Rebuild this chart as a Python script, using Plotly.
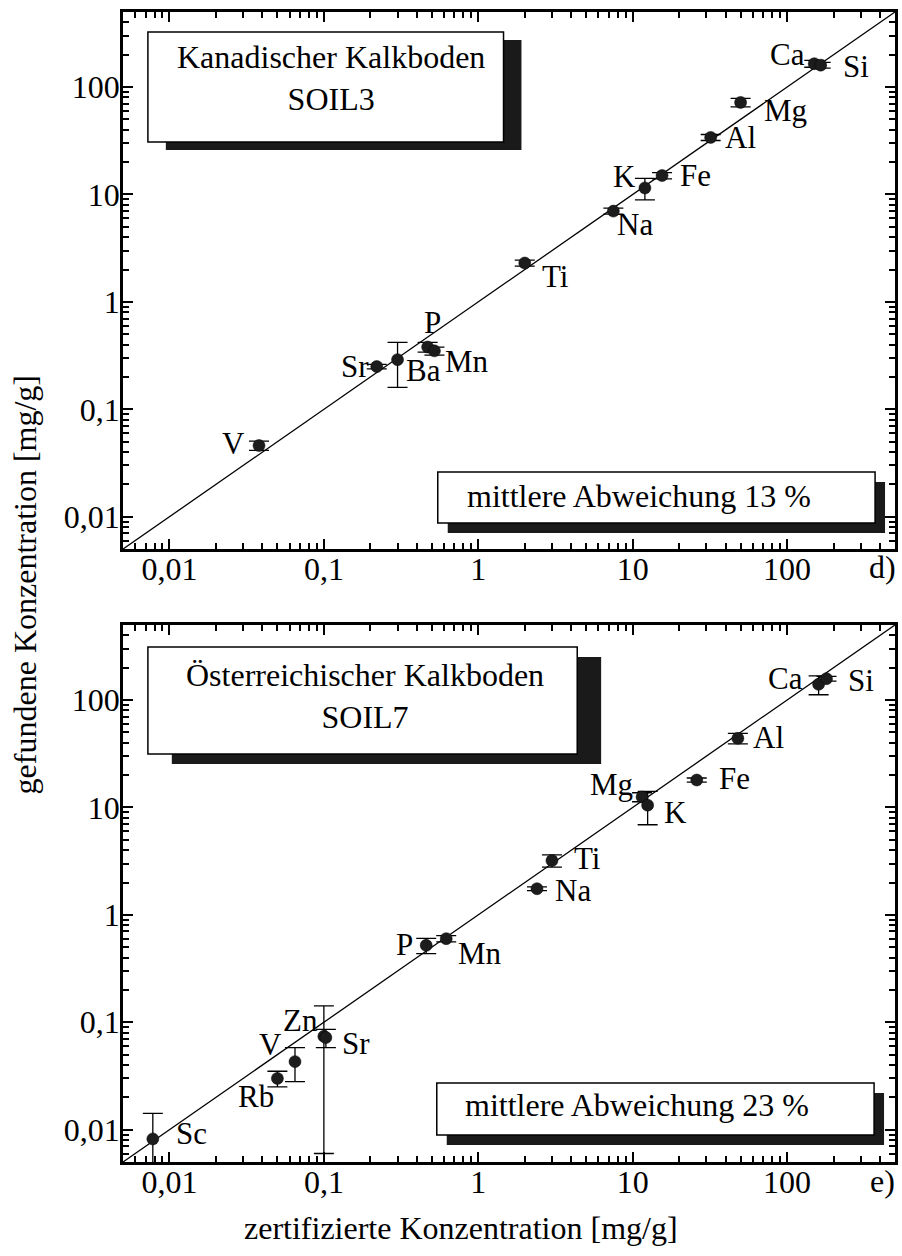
import numpy as np
import plotly.graph_objects as go

# Kanadischer Kalkboden SOIL3: certified vs. found concentration [mg/g]
soil3_elements = ["Ca", "Si", "Mg", "Al", "Fe", "K", "Na", "Ti", "P", "Mn", "Ba", "Sr", "V"]
soil3_certified = [150, 165, 50, 32, 15.5, 12, 7.5, 2.0, 0.47, 0.52, 0.30, 0.22, 0.038]
soil3_found = [165, 160, 72, 34, 15, 11.5, 7.0, 2.3, 0.38, 0.35, 0.29, 0.25, 0.046]
soil3_error = [12, 10, 6.5, 2.2, 1.0, 2.6, 0.45, 0.15, 0.04, 0.03, 0.13, 0.012, 0.0046]

# Österreichischer Kalkboden SOIL7
soil7_elements = ["Ca", "Si", "Al", "Fe", "Mg", "K", "Ti", "Na", "P", "Mn", "Zn", "Sr", "V", "Rb", "Sc"]
soil7_certified = [160, 180, 48, 26, 11.5, 12.5, 3.0, 2.4, 0.46, 0.62, 0.10, 0.103, 0.065, 0.05, 0.0078]
soil7_found = [140, 158, 44, 18, 12.5, 10.5, 3.2, 1.75, 0.52, 0.60, 0.074, 0.072, 0.043, 0.030, 0.0082]
soil7_error = [28, 8, 5, 0.8, 1.2, 3.6, 0.42, 0.07, 0.085, 0.04, 0.068, 0.014, 0.015, 0.005, 0.006]

# axis settings shared by both panels
axis_limits = [0.005, 500]
decade_ticks = [0.01, 0.1, 1, 10, 100]
decade_labels = ["0,01", "0,1", "1", "10", "100"]
deviation_soil3 = "mittlere Abweichung 13 %"
deviation_soil7 = "mittlere Abweichung 23 %"

FONT = "Liberation Serif, Times New Roman, Times, serif"
W, H = 902, 1256
ML, MR, MT, MB = 123, 4, 12, 94
PW, PH = W - ML - MR, H - MT - MB

# label offsets (pixels) of the element names next to their points
offs3 = {"Ca": (-27, 9), "Si": (35, -1), "Mg": (45, -8), "Al": (30, 0), "Fe": (33, 0),
         "K": (-20, 11), "Na": (22, -13), "Ti": (31, -13), "P": (5, 25), "Mn": (33, -11),
         "Ba": (26, -11), "Sr": (-22, 0), "V": (-26, 2)}
offs7 = {"Ca": (-33, 6), "Si": (35, -2), "Al": (31, 1), "Fe": (38, 2), "Mg": (-31, 13),
         "K": (28, -7), "Ti": (36, 2), "Na": (36, -2), "P": (-22, 1), "Mn": (34, -15),
         "Zn": (-23, 16), "Sr": (30, -6), "V": (-24, 17), "Rb": (-21, -18), "Sc": (39, 5)}


def px2paper(px, py):
    return (px - ML) / PW, (H - MB - py) / PH


minor_vals = [m * 10.0 ** e for e in range(-3, 3) for m in range(2, 10)]
minor_vals = [v for v in minor_vals if axis_limits[0] < v < axis_limits[1]]
log_range = [np.log10(axis_limits[0]), np.log10(axis_limits[1])]


def axis_style(**kw):
    d = dict(type="log", range=log_range, tickvals=decade_ticks, ticktext=decade_labels,
             ticks="inside", ticklen=10, tickwidth=2, tickcolor="black",
             showline=True, linecolor="black", linewidth=2.5, mirror="ticks",
             showgrid=False, zeroline=False,
             tickfont=dict(family=FONT, size=32, color="black"),
             minor=dict(tickvals=minor_vals, ticks="inside", ticklen=6, tickwidth=1.5,
                        tickcolor="black", showgrid=False))
    d.update(kw)
    return d


fig = go.Figure()

panels = [
    (soil3_elements, soil3_certified, soil3_found, soil3_error, "x", "y", offs3),
    (soil7_elements, soil7_certified, soil7_found, soil7_error, "x2", "y2", offs7),
]

for els, cert, found, err, xa, ya, offs in panels:
    # 1:1 reference line across the full axis range
    fig.add_trace(go.Scatter(x=axis_limits, y=axis_limits, mode="lines",
                             line=dict(color="black", width=1.3),
                             xaxis=xa, yaxis=ya, showlegend=False, hoverinfo="skip"))
    fig.add_trace(go.Scatter(
        x=cert, y=found, mode="markers", text=els, xaxis=xa, yaxis=ya, showlegend=False,
        marker=dict(color="#1c1c1c", size=12, line=dict(color="#000", width=0.5)),
        error_y=dict(type="data", array=err, symmetric=True, color="black",
                     thickness=1.3, width=10)))
    for e, c, f in zip(els, cert, found):
        dx, dy = offs[e]
        fig.add_annotation(x=np.log10(c), y=np.log10(f), xref=xa, yref=ya, text=e,
                           showarrow=False, xshift=dx, yshift=dy,
                           font=dict(family=FONT, size=31, color="black"))

fig.update_layout(
    width=W, height=H, margin=dict(l=ML, r=MR, t=MT, b=MB),
    paper_bgcolor="white", plot_bgcolor="white",
    xaxis=axis_style(domain=[0, 1], anchor="y", ticklabelstandoff=-10),
    yaxis=axis_style(domain=[0.533, 1], anchor="x", ticklabelstandoff=-6),
    xaxis2=axis_style(domain=[0, 1], anchor="y2", ticklabelstandoff=-10),
    yaxis2=axis_style(domain=[0, 0.467], anchor="x2", ticklabelstandoff=-6),
)

# framed text boxes with drop shadows
boxes = [
    ((148, 32, 505, 142), (18, 8)),
    ((439, 472, 878, 523), (10, 10)),
    ((148, 647, 579, 754), (24, 10)),
    ((438, 1083, 877, 1135), (10, 10)),
]
for (x0, y0, x1, y1), (sx, sy) in boxes:
    a0, b0 = px2paper(x0 + sx, y1 + sy)
    a1, b1 = px2paper(x1 + sx, y0 + sy)
    fig.add_shape(type="rect", xref="paper", yref="paper", x0=a0, y0=b0, x1=a1, y1=b1,
                  fillcolor="#1a1a1a", line=dict(width=0), layer="above")
    a0, b0 = px2paper(x0, y1)
    a1, b1 = px2paper(x1, y0)
    fig.add_shape(type="rect", xref="paper", yref="paper", x0=a0, y0=b0, x1=a1, y1=b1,
                  fillcolor="white", line=dict(color="black", width=1.5), layer="above")


def text_at(px, py, s, size=32, angle=0, xanchor="center"):
    a, b = px2paper(px, py)
    fig.add_annotation(x=a, y=b, xref="paper", yref="paper", text=s, showarrow=False,
                       textangle=angle, xanchor=xanchor, yanchor="middle",
                       font=dict(family=FONT, size=size, color="black"))


# two-line box titles
for px, py, s in [(332, 78, "Kanadischer Kalkboden<br>SOIL3"),
                  (366, 696, "Österreichischer Kalkboden<br>SOIL7")]:
    a, b = px2paper(px, py)
    fig.add_annotation(x=a, y=b, xref="paper", yref="paper", text=s, showarrow=False,
                       xanchor="center", yanchor="middle", align="center",
                       font=dict(family=FONT, size=32, color="black"))

text_at(641, 496, deviation_soil3)
text_at(639, 1105, deviation_soil7)
text_at(885, 567, "d)")
text_at(885, 1181, "e)")
text_at(25, 585, "gefundene Konzentration [mg/g]", angle=-90)
text_at(462, 1228, "zertifizierte Konzentration [mg/g]")

fig.write_html("out.html")
